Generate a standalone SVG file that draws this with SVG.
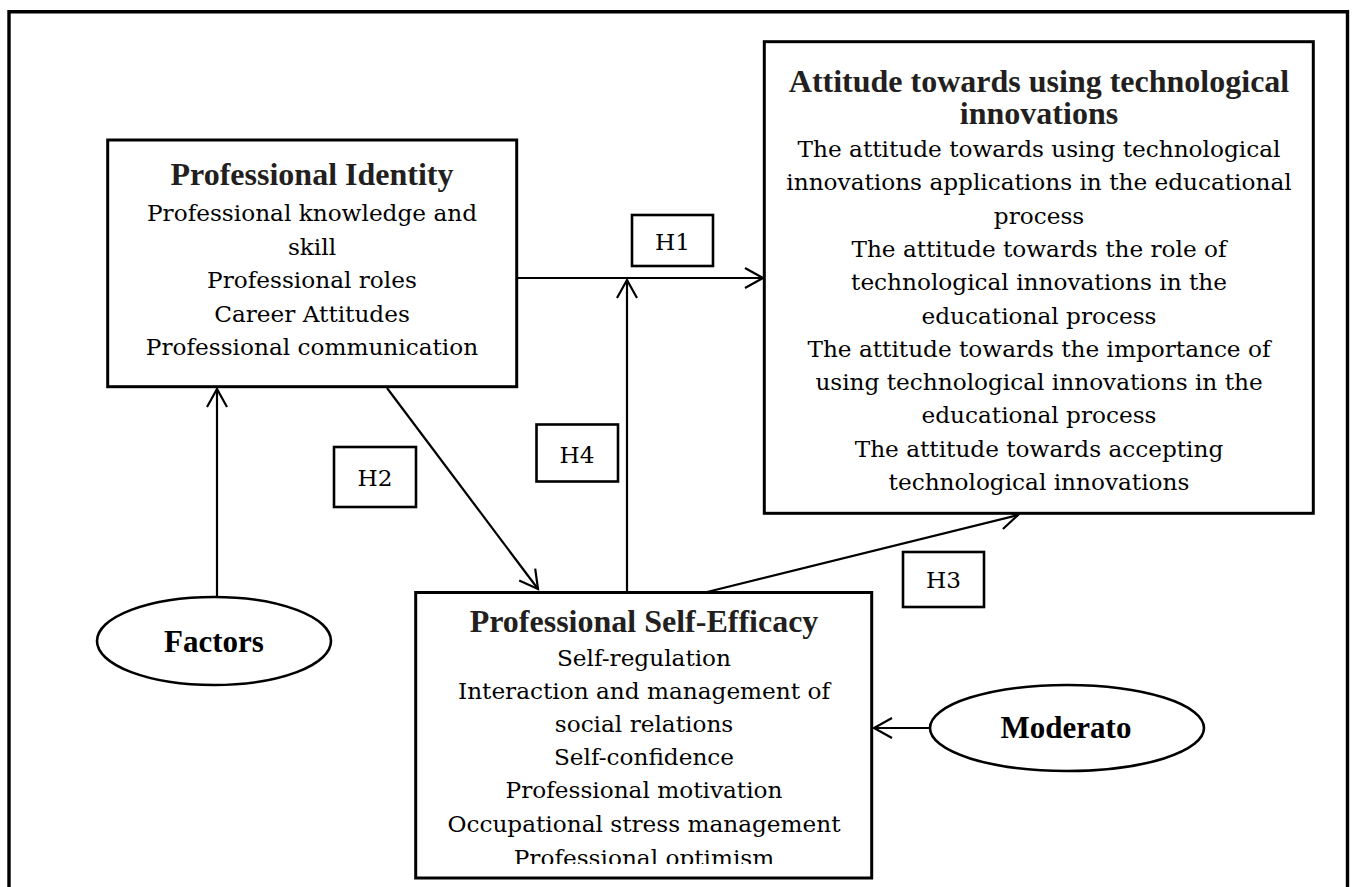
<svg xmlns="http://www.w3.org/2000/svg" width="1352" height="887" viewBox="0 0 1352 887">
  <style>
    .frame{fill:none;stroke:#000;stroke-width:3.4}
    .box{fill:#fff;stroke:#000;stroke-width:3}
    .hbox{fill:#fff;stroke:#000;stroke-width:2.6}
    .oval{fill:#fff;stroke:#000;stroke-width:2.6}
    .title{font-family:"Liberation Serif","Times New Roman",serif;font-weight:bold;font-size:32px;fill:#231f20;text-anchor:middle}
    .body{font-family:"DejaVu Serif","Liberation Serif",serif;font-size:23.2px;fill:#000;text-anchor:middle}
    .oval-label{font-family:"Liberation Serif","Times New Roman",serif;font-weight:bold;font-size:31px;fill:#000;text-anchor:middle}
    .edge{fill:none;stroke:#000;stroke-width:2.2}
    .head{fill:none;stroke:#000;stroke-width:2.2;stroke-linejoin:miter}
  </style>
  <defs>
    <marker id="open-arrow" markerUnits="userSpaceOnUse" orient="auto" refX="0" refY="0" markerWidth="1" markerHeight="1" overflow="visible">
      <path class="head" d="M-18,-10 L0,0 L-18,10"/>
    </marker>
    <clipPath id="efficacy-clip">
      <rect x="417" y="594" width="453" height="270"/>
    </clipPath>
  </defs>

  <rect width="1352" height="887" fill="#fff"/>

  <!-- page frame, open at the bottom -->
  <path class="frame" d="M9,887 V11.7 H1347.5 V887"/>

  <!-- connectors -->
  <g id="connectors">
    <line class="edge" x1="517" y1="278" x2="763" y2="278" marker-end="url(#open-arrow)"/>
    <line class="edge" x1="387" y1="388" x2="538" y2="589" marker-end="url(#open-arrow)"/>
    <line class="edge" x1="703" y1="593" x2="1018" y2="515" marker-end="url(#open-arrow)"/>
    <line class="edge" x1="627" y1="592" x2="627" y2="280" marker-end="url(#open-arrow)"/>
    <line class="edge" x1="217" y1="597" x2="217" y2="389" marker-end="url(#open-arrow)"/>
    <line class="edge" x1="930" y1="728" x2="874" y2="728" marker-end="url(#open-arrow)"/>
  </g>

  <!-- hypothesis labels -->
  <g id="label-h1">
    <rect class="hbox" x="632" y="215" width="81" height="51"/>
    <text class="body" x="672.5" y="250">H1</text>
  </g>
  <g id="label-h2">
    <rect class="hbox" x="334" y="447" width="82" height="60"/>
    <text class="body" x="375" y="486">H2</text>
  </g>
  <g id="label-h4">
    <rect class="hbox" x="536.5" y="424.5" width="81.5" height="57"/>
    <text class="body" x="577" y="463">H4</text>
  </g>
  <g id="label-h3">
    <rect class="hbox" x="903" y="552" width="81" height="55"/>
    <text class="body" x="943.5" y="588">H3</text>
  </g>

  <!-- Professional Identity -->
  <g id="professional-identity">
    <rect class="box" x="107.7" y="140" width="409" height="246.7"/>
    <text class="title" x="312" y="185">Professional Identity</text>
    <text class="body" x="312" y="221">Professional knowledge and</text>
    <text class="body" x="312" y="254.5">skill</text>
    <text class="body" x="312" y="288">Professional roles</text>
    <text class="body" x="312" y="321.5">Career Attitudes</text>
    <text class="body" x="312" y="355">Professional communication</text>
  </g>

  <!-- Attitude towards using technological innovations -->
  <g id="attitude">
    <rect class="box" x="764.3" y="41.7" width="549" height="471.6"/>
    <text class="title" x="1039" y="92">Attitude towards using technological</text>
    <text class="title" x="1039" y="124">innovations</text>
    <text class="body" x="1039" y="157">The attitude towards using technological</text>
    <text class="body" x="1039" y="190.3">innovations applications in the educational</text>
    <text class="body" x="1039" y="223.6">process</text>
    <text class="body" x="1039" y="257">The attitude towards the role of</text>
    <text class="body" x="1039" y="290.2">technological innovations in the</text>
    <text class="body" x="1039" y="323.5">educational process</text>
    <text class="body" x="1039" y="356.8">The attitude towards the importance of</text>
    <text class="body" x="1039" y="390.1">using technological innovations in the</text>
    <text class="body" x="1039" y="423.4">educational process</text>
    <text class="body" x="1039" y="456.7">The attitude towards accepting</text>
    <text class="body" x="1039" y="490">technological innovations</text>
  </g>

  <!-- Professional Self-Efficacy -->
  <g id="professional-self-efficacy">
    <rect class="box" x="415.7" y="592.5" width="456" height="285.5"/>
    <g clip-path="url(#efficacy-clip)">
      <text class="title" x="644" y="632">Professional Self-Efficacy</text>
      <text class="body" x="644" y="666">Self-regulation</text>
      <text class="body" x="644" y="699">Interaction and management of</text>
      <text class="body" x="644" y="732">social relations</text>
      <text class="body" x="644" y="765">Self-confidence</text>
      <text class="body" x="644" y="798">Professional motivation</text>
      <text class="body" x="644" y="832">Occupational stress management</text>
      <text class="body" x="644" y="866">Professional optimism</text>
    </g>
  </g>

  <!-- Factors -->
  <g id="factors">
    <ellipse class="oval" cx="214" cy="641" rx="117" ry="44"/>
    <text class="oval-label" x="214" y="652">Factors</text>
  </g>

  <!-- Moderato -->
  <g id="moderato">
    <ellipse class="oval" cx="1067" cy="728" rx="137" ry="43"/>
    <text class="oval-label" x="1066" y="738">Moderato</text>
  </g>
</svg>
